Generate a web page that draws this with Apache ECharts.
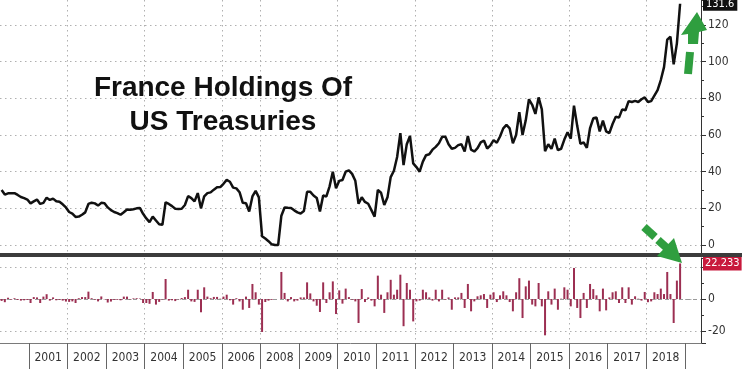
<!DOCTYPE html>
<html><head><meta charset="utf-8">
<script src="https://cdn.jsdelivr.net/npm/echarts@6/dist/echarts.min.js"></script>
<style>html,body{margin:0;padding:0;background:#fff}#c{width:742px;height:369px}</style>
</head><body><div id="c"></div>
<script>
// ---- data ----
const startYear = 2000, startMonth = 4, monthCount = 218;
const yearLabels = ['2001','2002','2003','2004','2005','2006','2008','2009','2010','2011','2012','2013','2014','2015','2016','2017','2018'];
const gridMonths = ['2002-01','2004-01','2006-01','2007-01','2009-01','2011-01','2013-01','2015-01','2017-01'];
const holdings = [
  30, 27.5, 28.2, 28.2, 28.3, 27.3, 26.2, 25.6, 24.8, 22.7, 23.8, 24.8,
  22.4, 23, 25.8, 24.6, 25.3, 23.9, 23.6, 22.2, 20.5, 18, 17.1, 15.3,
  15.5, 16.5, 17.8, 22.4, 23.1, 22.7, 21.5, 23, 22.8, 20.5, 19, 18,
  17.4, 16.5, 17.9, 19.4, 19.2, 19.5, 20, 20.2, 17, 14.5, 12.5, 15.5,
  13.4, 11.3, 11, 23.3, 22.4, 21.2, 19.8, 19.6, 19.8, 21.8, 26.7, 25.6,
  23.8, 28.3, 20, 26.5, 28.3, 28.7, 30.2, 31.5, 31.6, 33.4, 35.5, 34.5,
  31.3, 30.9, 28.8, 23, 22.8, 18.3, 26.5, 29.5, 26, 4.8, 3.5, 2.1,
  0.4, 0, 0, 16, 20.5, 20.3, 20.2, 18.9, 17.8, 17.2, 18.5, 29,
  29, 27, 25.7, 18.3, 27, 26.5, 32, 40, 31, 35, 35.5, 40,
  40.7, 38.8, 35, 22.5, 26, 23.5, 22.5, 19, 15.5, 30, 28.5, 21.8,
  26, 37, 40.5, 48, 61, 43.6, 55, 59.5, 44.5, 42.5, 40, 45.5,
  49, 49.5, 52, 53.5, 55.5, 59, 59, 55, 52.5, 53, 54.5, 55,
  51, 59.5, 52, 51, 52.8, 56, 57, 52.6, 54.3, 57.2, 55.8, 59.2,
  63.6, 65.5, 63.6, 55.5, 60, 72.5, 60, 68, 79.5, 76.5, 71.5, 80.5,
  74, 51.2, 55, 52.5, 58, 51.8, 52.5, 57.5, 61.5, 58, 76, 65,
  55.2, 56, 53, 63.8, 69.1, 69.5, 62, 67.8, 62, 61, 66, 70,
  69.5, 74, 73.5, 78.5, 78, 78.6, 78, 79.5, 80.5, 78, 78.5, 81.5,
  84.5, 90, 97, 112, 113.6, 98.5, 110, 131.6
];
const monthlyChange = [
  -1.2, -2, 0.8, -0.4, 0.5, -0.6, -1, -0.8, -0.6, -2.5, 1.2, 1,
  -2.5, 1.5, 3, -1, 1, -0.8, -0.5, -1, -1.6, -1.8, -1.5, -2.5,
  0.5, 1.2, 1.2, 4.6, 0.5, -0.4, -1.5, 1.6, -0.2, -2.2, -1.6, -0.5,
  -0.5, -0.8, 1.5, 1.5, -0.3, 0.4, 0.5, 0.3, -2.5, -2.5, -3, 4.4,
  -3.5, -1.8, -0.3, 12.5, -1, -0.8, -1.3, -0.2, 0.6, 1.2, 5.8, -1.5,
  -1.8, 5.8, -8.3, 7.3, 1.5, 0.5, 1.3, 1.3, 0.2, 1.5, 2.7, -0.8,
  -3.5, 0.5, -1.5, -6.7, 1.5, -5.6, 9.4, 4.2, -3.5, -20.6, -1.9, -1,
  -0.5, 0, 0, 16.9, 3.8, -1.5, 1.2, -1.5, -1, 1, 1, 10.4,
  3.5, -1.5, -4.2, -8.1, 10.4, -2.5, 4.2, 11, -9.4, 5.4, -2.9, 6.5,
  1.2, -0.4, -1.5, -15, 6.2, -1.9, 1, -1, -4.6, 14.6, 2.7, -8.7,
  4.2, 12, 2.7, 5.8, 15.2, -17, 10, 5.8, -14, -1.5, -1, 5.8,
  4.2, 1, -1, 5.8, -1.5, 5.8, -0.4, 1, -6.7, 1, 1, 3.8,
  -5.6, 9.4, -7.7, -1.5, 1.7, 2.3, 3.1, -5.6, 2.7, 4.2, -1.9, 2.3,
  4.8, 2.3, -1.9, -7.7, 4.2, 13, -11.9, 7.9, 11.5, -3.5, -4.6, 10,
  -4.6, -22.7, 4.8, -3.5, 6.5, -6.7, 0.2, 7.3, 5.8, -4.6, 19.4, -5.6,
  -11.9, 3.8, -5.6, 9.4, 6.2, 2.3, -7.7, 6.5, -7.1, 1, 4.2, 4.8,
  -2.5, 7.3, -2.5, 7.3, -3.5, 1.7, 0.2, -1, 4.4, -2, -1.5, 4.2,
  3.1, 6.5, 3.1, 16.9, 3.1, -15, 11.5, 22.233
];
const lastHolding = 131.6;
const lastChange = 22.233;
const titleText = 'France Holdings Of\nUS Treasuries';

// ---- build ----
const categories = [];
for (let k = 0; k < monthCount; k++) {
  const m0 = startMonth - 1 + k;
  const y = startYear + Math.floor(m0 / 12);
  const m = (m0 % 12) + 1;
  categories.push(y + '-' + String(m).padStart(2, '0'));
}
const firstLabelYear = 2001;
const isYearStart = (v) => v.endsWith('-01') && v >= firstLabelYear + '-01';
const isMidYear = (v) => v.endsWith('-07') && v >= firstLabelYear + '-07' && (+v.slice(0,4) - firstLabelYear) < yearLabels.length;

const FONT = "'Liberation Sans Narrow', 'DejaVu Sans Condensed', 'Liberation Sans', sans-serif";
const dotted = { type: [1.5, 3.5], color: '#b0b0b0', width: 1 };

const chart = echarts.init(document.getElementById('c'), null, { renderer: 'canvas' });
chart.setOption({
  animation: false,
  backgroundColor: '#fff',
  title: {
    text: titleText, left: 218, top: 66, textAlign: 'center',
    textStyle: { fontFamily: "'Liberation Sans', Arial, sans-serif", fontSize: 28, fontWeight: 'bold', color: '#111', lineHeight: 34 }
  },
  grid: [
    { left: 0, right: 41, top: 0, height: 255, outerBoundsMode: 'none' },
    { left: 0, right: 41, top: 258, height: 85, outerBoundsMode: 'none' }
  ],
  xAxis: [
    { type: 'category', gridIndex: 0, data: categories, boundaryGap: true,
      axisLine: { show: false, onZero: false }, axisTick: { show: false }, axisLabel: { show: false },
      splitLine: { show: true, interval: (i, v) => gridMonths.includes(v), lineStyle: dotted } },
    { type: 'category', gridIndex: 1, data: categories, boundaryGap: true,
      axisLine: { show: true, onZero: false, lineStyle: { color: '#7a7a7a', width: 1 } },
      axisTick: { show: true, interval: (i, v) => isYearStart(v), length: 26, lineStyle: { color: '#666' } },
      axisLabel: { show: true, interval: (i, v) => isMidYear(v), formatter: (v) => yearLabels[+v.slice(0,4) - firstLabelYear],
        margin: 9, color: '#333', fontSize: 12, fontFamily: FONT, padding: [0, 3.2, 0, 0] },
      splitLine: { show: true, interval: (i, v) => gridMonths.includes(v), lineStyle: dotted } }
  ],
  yAxis: [
    { type: 'value', gridIndex: 0, position: 'right', min: -5.45, max: 133.64, minInterval: 20, maxInterval: 20, splitNumber: 7,
      axisLine: { show: true, lineStyle: { color: '#333', width: 1 } },
      axisTick: { show: true, length: 5, lineStyle: { color: '#333' } },
      minorTick: { show: true, splitNumber: 2, length: 3, lineStyle: { color: '#333' } },
      axisLabel: { showMinLabel: false, showMaxLabel: false, margin: 7, color: '#333', fontSize: 12, fontFamily: FONT },
      splitLine: { show: true, showMinLine: false, showMaxLine: false, lineStyle: dotted } },
    { type: 'value', gridIndex: 1, position: 'right', min: -27.5, max: 25.625, minInterval: 20, maxInterval: 20, splitNumber: 3,
      axisLine: { show: true, lineStyle: { color: '#333', width: 1 } },
      axisTick: { show: true, length: 5, lineStyle: { color: '#333' } },
      minorTick: { show: true, splitNumber: 2, length: 3, lineStyle: { color: '#333' } },
      axisLabel: { showMinLabel: false, showMaxLabel: false, margin: 7, color: '#333', fontSize: 12, fontFamily: FONT },
      splitLine: { show: true, showMinLine: false, showMaxLine: false, lineStyle: dotted } }
  ],
  series: [
    { type: 'line', name: 'Holdings', xAxisIndex: 0, yAxisIndex: 0, data: holdings, symbol: 'none',
      lineStyle: { color: '#111', width: 2.5 }, z: 5,
      markLine: { silent: true, symbol: 'none', animation: false,
        lineStyle: { color: 'transparent' },
        data: [{ yAxis: lastHolding }],
        label: { show: true, position: 'end', formatter: String(lastHolding), color: '#fff', backgroundColor: '#111',
          padding: [2, 3, 1, 3], fontSize: 11, fontFamily: FONT, distance: 2 } } },
    { type: 'bar', name: 'Change', xAxisIndex: 1, yAxisIndex: 1, data: monthlyChange, barWidth: 2,
      itemStyle: { color: '#9c2f52' }, z: 5,
      markLine: { silent: true, symbol: 'none', animation: false,
        data: [
          { yAxis: 0, lineStyle: { color: '#9a9a9a', type: [4, 3], width: 1 }, label: { show: false } },
          { yAxis: lastChange, lineStyle: { color: 'transparent' },
            label: { show: true, position: 'end', formatter: String(lastChange), color: '#fff', backgroundColor: '#c8193c',
              padding: [2, 2, 1, 2], fontSize: 11, fontFamily: FONT, distance: 2 } }
        ] } }
  ],
  graphic: [
    { type: 'rect', shape: { x: 0, y: 253, width: 742, height: 4 }, style: { fill: '#3c3c3c' }, z: 50 },
    { type: 'rect', shape: { x: 696, y: 344, width: 12, height: 25 }, style: { fill: '#fff' }, z: 100 },
    // annotation arrows
    { type: 'line', shape: { x1: 688, y1: 74, x2: 690, y2: 52 }, style: { stroke: '#2f9e3f', lineWidth: 8 }, z: 60 },
    { type: 'polygon', shape: { points: [[697, 12], [707, 30], [699, 32], [698, 44], [688, 44], [688, 34], [681, 35]] }, style: { fill: '#2f9e3f' }, z: 60 },
    { type: 'line', shape: { x1: 644, y1: 227, x2: 655, y2: 237 }, style: { stroke: '#2f9e3f', lineWidth: 8 }, z: 60 },
    { type: 'line', shape: { x1: 658, y1: 240, x2: 668, y2: 249 }, style: { stroke: '#2f9e3f', lineWidth: 8 }, z: 60 },
    { type: 'polygon', shape: { points: [[682, 263], [657, 256], [674, 238]] }, style: { fill: '#2f9e3f' }, z: 60 }
  ]
});
</script>
</body></html>
